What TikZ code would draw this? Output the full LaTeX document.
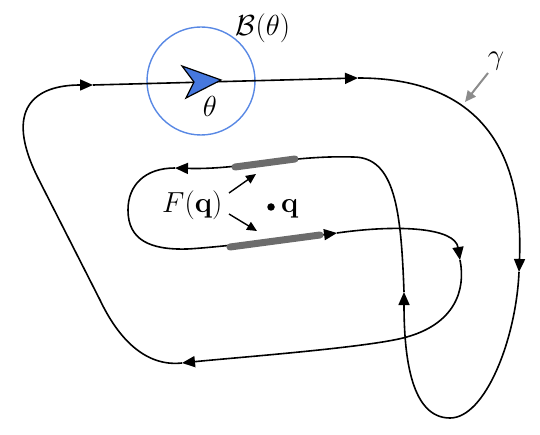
\RequirePackage{fix-cm}
\documentclass[tikz,border=0pt]{standalone}
\usetikzlibrary{arrows.meta}
\definecolor{ballBlue}{RGB}{88,136,228}
\definecolor{arrowBlue}{RGB}{70,120,222}
\definecolor{barGray}{RGB}{108,108,108}
\definecolor{ptrGray}{RGB}{140,140,140}
\begin{document}
\begin{tikzpicture}[x=1pt,y=-1pt,
  curve/.style={line width=1.6pt, black, line join=round},
  tipped/.style={curve,-{Triangle[length=13pt,width=11pt]}},
  bar/.style={line width=7pt, line cap=round, barGray},
  pointer/.style={line width=1.4pt, black, -{Triangle[length=10pt,width=9pt]}},
  gpointer/.style={line width=2pt, ptrGray, -{Triangle[length=11pt,width=10pt]}},
  lbl/.style={inner sep=0pt, font=\fontsize{29}{34}\selectfont}]
\useasboundingbox (0,0) rectangle (540,435);

% ball
\node[circle, draw=ballBlue, line width=1.4pt, minimum size=108pt, inner sep=0pt] (ball) at (201,81) {};

% the closed curve gamma, piece by piece
\draw[tipped] (93,85) -- (358,78);
\draw[tipped] (358,78) .. controls (450,78) and (525,120) .. (519,272);
\draw[curve] (519,272) .. controls (516,340) and (485,418) .. (450,418);
\draw[tipped] (450,418) .. controls (412,418) and (404,360) .. (404,292);
\draw[tipped] (404,292) .. controls (401,210) and (395,157) .. (353,157)
  .. controls (290,155) and (240,170) .. (175,168);
\draw[tipped] (175,168) .. controls (145,168) and (128,185) .. (128,210)
  .. controls (128,240) and (150,250) .. (187,249)
  .. controls (210,248) and (290,239) .. (337,233);
\draw[tipped] (337,233) .. controls (400,224) and (455,228) .. (460,260);
\draw[tipped] (460,260) .. controls (466,290) and (455,325) .. (403,338)
  .. controls (363,348) and (230,358) .. (182,363);
\draw[tipped] (182,363) .. controls (145,367) and (118,338) .. (100,300)
  -- (38,178) .. controls (3,108) and (35,85) .. (93,85);

% gray bars
\draw[bar] (235,167) -- (295,159);
\draw[bar] (230,247) -- (320,235);

% blue arrowhead at theta
\filldraw[fill=arrowBlue, draw=black, line width=1.2pt, line join=miter]
  (221,80) -- (182,66) -- (194,82) -- (186,98) -- cycle;

% labels
\node[lbl, anchor=base] (Btheta) at (263,36) {$\mathcal{B}(\theta)$};
\node[lbl, anchor=base] (theta) at (210,117) {$\theta$};
\node[lbl, anchor=base] (gamma) at (496,65) {$\gamma$};
\node[lbl, anchor=base west] (Fq) at (162,213) {$F(\mathbf{q})$};
\node[circle, fill=black, inner sep=0pt, minimum size=7.5pt] (qdot) at (271,207) {};
\node[lbl, anchor=base west] (q) at (281,213) {$\mathbf{q}$};

% pointers
\coordinate (fqUp) at (256,174);
\coordinate (fqDown) at (257,231);
\coordinate (fqUpStart) at (229,193);
\coordinate (fqDownStart) at (229,214);
\draw[pointer] (fqUpStart) -- (fqUp);
\draw[pointer] (fqDownStart) -- (fqDown);
\coordinate (gStart) at (488,73);
\coordinate (gTip) at (465,102);
\draw[gpointer] (gStart) -- (gTip);
\end{tikzpicture}
\end{document}
